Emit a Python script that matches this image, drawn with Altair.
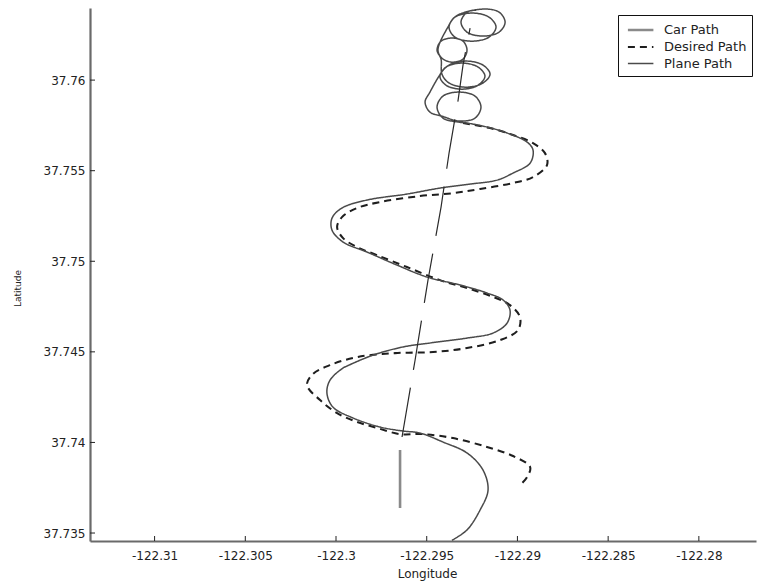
import altair as alt
import pandas as pd

# ---------------- data ----------------
series_names = ["Car Path", "Desired Path", "Plane Path"]

car_lon = [-122.29647, -122.29647]
car_lat = [37.73638, 37.73958]

car_track_lon = [-122.29636, -122.29564, -122.29493, -122.29421, -122.29377,
                 -122.29327, -122.29300, -122.29261]
car_track_lat = [37.74030, 37.74455, 37.74896, 37.75299, 37.75597,
                 37.75890, 37.76083, 37.76287]

desired_lon = [-122.29300, -122.29151, -122.29024, -122.28914, -122.28848, -122.28837,
               -122.28914, -122.29024, -122.29206, -122.29355, -122.29537, -122.29757,
               -122.29884, -122.29967, -122.29994, -122.29961, -122.29884, -122.29774,
               -122.29609, -122.29427, -122.29278, -122.29134, -122.29041, -122.28986,
               -122.28997, -122.29096, -122.29278, -122.29465, -122.29675, -122.29884,
               -122.30033, -122.30127, -122.30160, -122.30088, -122.29994, -122.29884,
               -122.29774, -122.29647, -122.29520, -122.29355, -122.29168, -122.29024,
               -122.28930, -122.28947, -122.28980]
desired_lat = [37.75763, 37.75735, 37.75697, 37.75652, 37.75597, 37.75531,
               37.75465, 37.75432, 37.75399, 37.75376, 37.75360, 37.75327,
               37.75294, 37.75244, 37.75189, 37.75128, 37.75078, 37.75034,
               37.74968, 37.74896, 37.74852, 37.74803, 37.74758, 37.74692,
               37.74620, 37.74565, 37.74521, 37.74499, 37.74493, 37.74471,
               37.74427, 37.74378, 37.74317, 37.74234, 37.74162, 37.74113,
               37.74080, 37.74046, 37.74046, 37.74024, 37.73975, 37.73925,
               37.73864, 37.73809, 37.73770]

plane_lon = [-122.29361, -122.29278, -122.29206, -122.29162, -122.29190, -122.29278,
             -122.29410, -122.29537, -122.29631, -122.29757, -122.29906, -122.30017,
             -122.30050, -122.30033, -122.29961, -122.29939, -122.29796, -122.29631,
             -122.29482, -122.29278, -122.29134, -122.29057, -122.29041, -122.29079,
             -122.29168, -122.29316, -122.29498, -122.29664, -122.29829, -122.29961,
             -122.30022, -122.30022, -122.29967, -122.29829, -122.29609, -122.29427,
             -122.29261, -122.29112, -122.29024, -122.28930, -122.28914, -122.28947,
             -122.29057, -122.29168, -122.29278,
             # loiter loops
             -122.29322, -122.29410, -122.29443, -122.29410, -122.29322, -122.29234,
             -122.29201, -122.29234, -122.29322, -122.29416, -122.29482, -122.29509,
             -122.29482, -122.29432, -122.29394, -122.29305, -122.29217, -122.29179,
             -122.29217, -122.29305, -122.29394, -122.29427, -122.29377, -122.29283,
             -122.29190, -122.29151, -122.29190, -122.29283, -122.29377, -122.29416,
             -122.29421, -122.29443, -122.29421, -122.29361, -122.29300, -122.29278,
             -122.29300, -122.29361, -122.29416, -122.29438, -122.29383, -122.29344,
             -122.29250, -122.29157, -122.29118, -122.29157, -122.29250, -122.29344,
             -122.29377, -122.29338, -122.29190, -122.29101, -122.29068, -122.29101,
             -122.29190, -122.29278, -122.29311, -122.29278, -122.29228]
plane_lat = [37.73460, 37.73517, 37.73627, 37.73737, 37.73848, 37.73942,
             37.74002, 37.74052, 37.74063, 37.74085, 37.74135, 37.74195,
             37.74273, 37.74344, 37.74411, 37.74422, 37.74482, 37.74527,
             37.74549, 37.74576, 37.74604, 37.74659, 37.74731, 37.74786,
             37.74825, 37.74869, 37.74913, 37.74979, 37.75051, 37.75106,
             37.75172, 37.75238, 37.75294, 37.75338, 37.75371, 37.75404,
             37.75426, 37.75448, 37.75487, 37.75542, 37.75614, 37.75658,
             37.75708, 37.75741, 37.75763,
             # loiter loops
             37.75768, 37.75790, 37.75851, 37.75912, 37.75934, 37.75912,
             37.75851, 37.75790, 37.75774, 37.75801, 37.75823, 37.75879,
             37.75934, 37.76022, 37.76072, 37.76094, 37.76072, 37.76022,
             37.75972, 37.75950, 37.75972, 37.76022, 37.76083, 37.76105,
             37.76083, 37.76033, 37.75984, 37.75961, 37.75984, 37.76033,
             37.76116, 37.76166, 37.76215, 37.76232, 37.76215, 37.76166,
             37.76116, 37.76099, 37.76121, 37.76166, 37.76293, 37.76348,
             37.76370, 37.76348, 37.76293, 37.76237, 37.76215, 37.76237,
             37.76293, 37.76353, 37.76392, 37.76375, 37.76320, 37.76265,
             37.76243, 37.76265, 37.76320, 37.76375, 37.76386]

x_ticks = [-122.31, -122.305, -122.3, -122.295, -122.29, -122.285, -122.28]
y_ticks = [37.735, 37.74, 37.745, 37.75, 37.755, 37.76]

# ---------------- tables ----------------
rows = []
for name, lons, lats in [("Car Path", car_lon, car_lat),
                         ("Desired Path", desired_lon, desired_lat),
                         ("Plane Path", plane_lon, plane_lat)]:
    for i, (a, b) in enumerate(zip(lons, lats)):
        rows.append({"series": name, "lon": a, "lat": b, "order": i})
df = pd.DataFrame(rows)

track = pd.DataFrame({"lon": car_track_lon, "lat": car_track_lat,
                      "order": list(range(len(car_track_lon)))})
xt = pd.DataFrame({"v": x_ticks})
yt = pd.DataFrame({"v": y_ticks})

W, H = 666, 533
xs = alt.Scale(domain=[-122.31356, -122.27685], nice=False, zero=False)
ys = alt.Scale(domain=[37.73456, 37.76398], nice=False, zero=False)

lab = "replace(format(datum.value, '.3~f'), '\u2212', '-')"

x_axis = alt.Axis(values=x_ticks, labelExpr=lab, title="Longitude",
                  ticks=False, tickSize=0, labelPadding=9,
                  titleX=337, titleY=27, titleBaseline="top",
                  titleFontSize=12, titleFontWeight="normal",
                  titleFont="DejaVu Sans", titleColor="#222222")
y_axis = alt.Axis(values=y_ticks, labelExpr=lab, title="Latitude",
                  ticks=False, tickSize=0, labelPadding=5,
                  titleX=-73, titleY=280, titleAngle=270,
                  titleAlign="center", titleBaseline="middle",
                  titleFontSize=9, titleFontWeight="normal",
                  titleFont="DejaVu Sans", titleColor="#222222")

leg = alt.Legend(title=None, orient="none", legendX=528, legendY=7)

lines = alt.Chart(df).mark_line(interpolate="catmull-rom", clip=True).encode(
    x=alt.X("lon:Q", scale=xs, axis=x_axis),
    y=alt.Y("lat:Q", scale=ys, axis=y_axis),
    color=alt.Color("series:N",
                    scale=alt.Scale(domain=series_names,
                                    range=["#8a8a8a", "#1e1e1e", "#4a4a4a"]),
                    legend=leg),
    strokeDash=alt.StrokeDash("series:N",
                              scale=alt.Scale(domain=series_names,
                                              range=[[1, 0], [7, 5], [1, 0]]),
                              legend=leg),
    strokeWidth=alt.StrokeWidth("series:N",
                                scale=alt.Scale(domain=series_names,
                                                range=[2.6, 1.5, 1.0]),
                                legend=leg),
    order="order:Q",
    detail="series:N",
)

track_line = alt.Chart(track).mark_line(color="#2a2a2a", strokeWidth=1.2,
                                        strokeDash=[50, 18], clip=True).encode(
    x=alt.X("lon:Q", scale=xs),
    y=alt.Y("lat:Q", scale=ys),
    order="order:Q",
)

xtick = alt.Chart(xt).mark_rule(color="#222222", strokeWidth=1).encode(
    x=alt.X("v:Q", scale=xs),
    y=alt.value(H),
    y2=alt.value(H - 5),
)
ytick = alt.Chart(yt).mark_rule(color="#222222", strokeWidth=1).encode(
    y=alt.Y("v:Q", scale=ys),
    x=alt.value(0),
    x2=alt.value(5),
)

chart = alt.layer(lines, track_line, xtick, ytick).properties(
    width=W, height=H,
    autosize=alt.AutoSizeParams(type="none"),
    padding={"left": 90, "top": 8, "right": 2, "bottom": 41},
    background="white",
).configure_view(stroke=None).configure_axis(
    grid=False,
    domainColor="#6a6a6a",
    domainWidth=2.2,
    labelFont="DejaVu Sans",
    labelFontSize=12,
    labelColor="#222222",
).configure_legend(
    symbolType="M-0.6,0H2.4",
    symbolSize=289,
    labelFont="DejaVu Sans",
    labelFontSize=13,
    labelColor="#222222",
    strokeColor="#111111",
    fillColor="white",
    padding=5,
    rowPadding=0,
    labelOffset=21,
)

chart.save("out.html", embed_options={"renderer": "svg", "actions": False})
